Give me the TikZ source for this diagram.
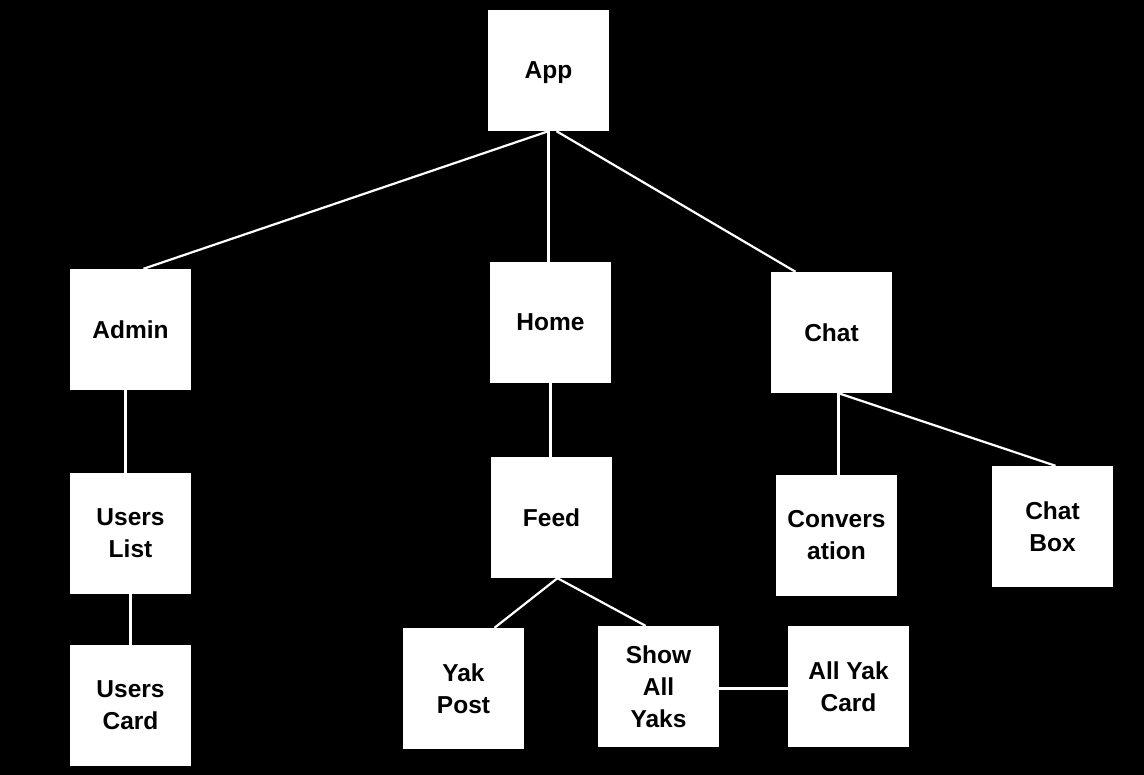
\documentclass[tikz,border=0pt]{standalone}
\usepackage{fontspec}
\setmainfont{Liberation Sans}
\usetikzlibrary{positioning}

\tikzset{
  box/.style={rectangle, fill=white, minimum size=121pt, inner sep=0pt, align=center,
    font=\bfseries\fontsize{24.5}{32}\selectfont, text=black},
  link/.style={draw=white, line width=2.2pt}
}

\begin{document}
\begin{tikzpicture}[x=1pt, y=-1pt]
\fill[black] (0, 0) rectangle (1144, 775);
\useasboundingbox (0, 0) rectangle (1144, 775);

% top level
\node[box, text depth=0pt] (app) at (548.5, 70.5) {App};
\node[box] (admin) at (130.5, 329.5) {Admin};
\node[box] (home) at (550.5, 322.5) {Home};
\node[box] (chat) at (831.5, 332.5) {Chat};

% second level
\node[box] (userslist) at (130.5, 533.5) {Users\\List};
\node[box] (userscard) at (130.5, 705.5) {Users\\Card};
\node[box] (feed) at (551.5, 517.5) {Feed};
\node[box] (conversation) at (836.5, 535.5) {Convers\\ation};
\node[box] (chatbox) at (1052.5, 526.5) {Chat\\Box};

% feed children
\node[box] (yakpost) at (463.5, 688.5) {Yak\\Post};
\node[box] (showall) at (658.5, 686.5) {Show\\All\\Yaks};
\node[box] (allyakcard) at (848.5, 686.5) {All Yak\\Card};

\draw[link] (app.south) -- ([xshift=13pt]admin.north);
\draw[link] (app.south) -- ([xshift=-2pt]home.north);
\draw[link] ([xshift=8pt]app.south) -- ([xshift=-36pt]chat.north);
\draw[link] ([xshift=-5pt]admin.south) -- ([xshift=-5pt]userslist.north);
\draw[link] (userslist.south) -- (userscard.north);
\draw[link] (home.south) -- ([xshift=-1pt]feed.north);
\draw[link] ([xshift=7pt]chat.south) -- ([xshift=2pt]conversation.north);
\draw[link] ([xshift=7pt]chat.south) -- ([xshift=3pt]chatbox.north);
\draw[link] ([xshift=6pt]feed.south) -- ([xshift=31pt]yakpost.north);
\draw[link] ([xshift=6pt]feed.south) -- ([xshift=-13pt]showall.north);
\draw[link] ([yshift=-2pt]showall.east) -- ([yshift=-2pt]allyakcard.west);
\end{tikzpicture}
\end{document}
